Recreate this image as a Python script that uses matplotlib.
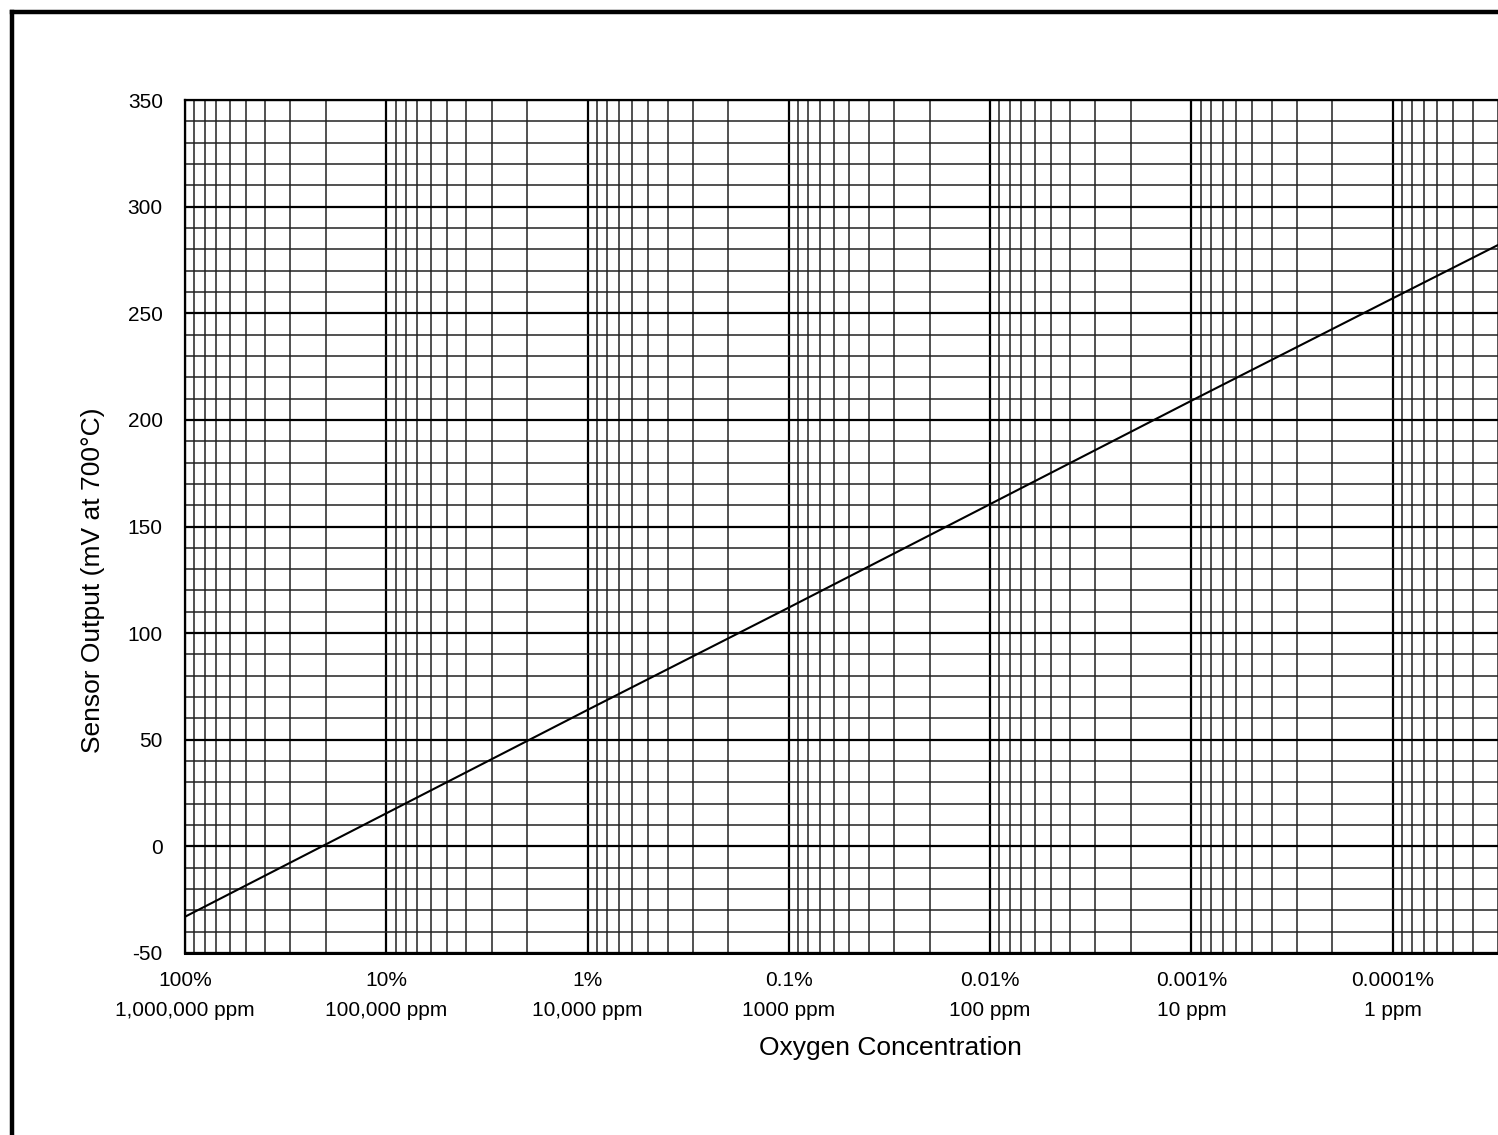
import matplotlib
matplotlib.use("Agg")
import matplotlib.pyplot as plt
from matplotlib.ticker import FixedLocator, LogLocator, MultipleLocator, NullFormatter
from matplotlib.lines import Line2D

plt.rcParams['font.family'] = ['Liberation Sans', 'DejaVu Sans']

# Data (x in ppm O2, y in mV at 700 C)
conc_ppm = [1e6, 1e5, 1e4, 1e3, 1e2, 1e1, 1e0, 0.3]
sensor_mv = [-33, 15.5, 64, 112, 160.5, 209, 257, 282]

tick_ppm = [1e6, 1e5, 1e4, 1e3, 1e2, 1e1, 1e0]
tick_labels = ["100%\n1,000,000 ppm", "10%\n100,000 ppm", "1%\n10,000 ppm",
               "0.1%\n1000 ppm", "0.01%\n100 ppm", "0.001%\n10 ppm",
               "0.0001%\n1 ppm"]
y_ticks = [-50, 0, 50, 100, 150, 200, 250, 300, 350]

W, H = 1498, 1135
fig = plt.figure(figsize=(W / 100, H / 100), dpi=100)
ax = fig.add_axes([185 / W, 1 - 953 / H, (W - 185) / W, (953 - 100) / H])

ax.set_xscale('log')
ax.set_xlim(1e6, 0.3)
ax.set_ylim(-50, 350)

ax.xaxis.set_major_locator(FixedLocator(tick_ppm))
ax.set_xticklabels(tick_labels, fontsize=15, linespacing=1.7)
ax.xaxis.set_minor_locator(LogLocator(base=10, subs=range(2, 10), numticks=50))
ax.xaxis.set_minor_formatter(NullFormatter())

ax.yaxis.set_major_locator(FixedLocator(y_ticks))
ax.set_yticklabels([str(v) for v in y_ticks], fontsize=15)
ax.yaxis.set_minor_locator(MultipleLocator(10))

ax.tick_params(which='both', length=0)
ax.tick_params(axis='y', pad=16)
ax.tick_params(axis='x', pad=13)

ax.grid(which='major', color='black', linewidth=1.6)
ax.grid(which='minor', color='#222222', linewidth=1.1)
ax.set_axisbelow(True)

ax.plot(conc_ppm, sensor_mv, color='black', linewidth=1.5, zorder=5)

ax.spines['right'].set_visible(False)
ax.spines['bottom'].set_linewidth(2.2)
ax.spines['left'].set_linewidth(1.6)
ax.spines['top'].set_linewidth(1.6)

fig.text(890 / W, 1 - 1048 / H, "Oxygen Concentration", fontsize=19,
         ha='center', va='center')
fig.text(93 / W, 1 - 580 / H, "Sensor Output (mV at 700°C)", fontsize=19,
         ha='center', va='center', rotation=90)

# Outer frame (partially visible)
fig.add_artist(Line2D([12 / W, 12 / W], [0, 1 - 12 / H], transform=fig.transFigure,
                      color='black', linewidth=3.2, solid_capstyle='projecting'))
fig.add_artist(Line2D([12 / W, 1], [1 - 12 / H, 1 - 12 / H], transform=fig.transFigure,
                      color='black', linewidth=3.2, solid_capstyle='projecting'))

fig.savefig("out.png", dpi=100, facecolor='white')
